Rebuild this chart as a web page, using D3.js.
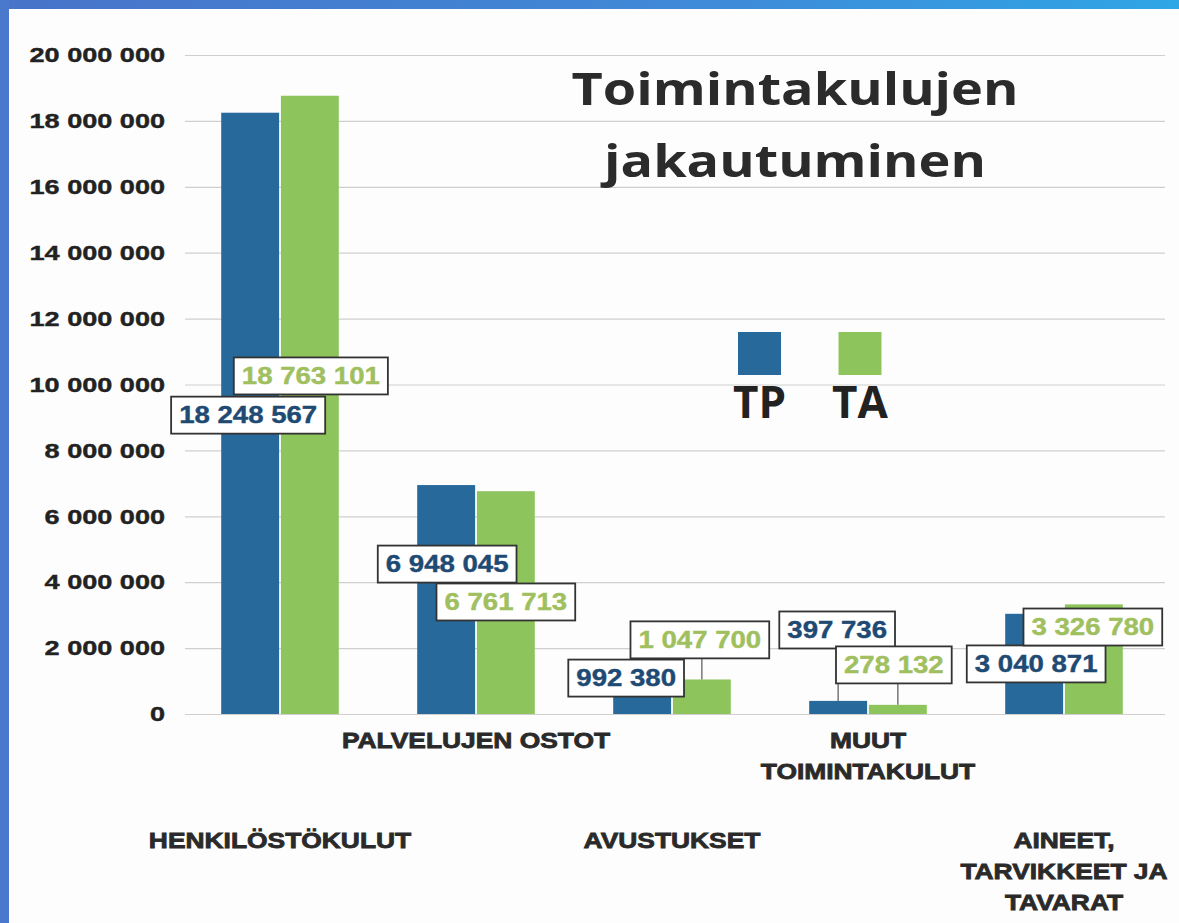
<!DOCTYPE html>
<html>
<head>
<meta charset="utf-8">
<script src="https://cdn.jsdelivr.net/npm/d3@7"></script>
<style>
  body { margin: 0; background: #ffffff; }
  svg { display: block; }
</style>
</head>
<body>
<div id="chart-area"></div>
<script>
// data
var categories = ["HENKILÖSTÖKULUT", "PALVELUJEN OSTOT", "AVUSTUKSET", "MUUT\nTOIMINTAKULUT", "AINEET,\nTARVIKKEET JA\nTAVARAT"];
var seriesNames = ["TP", "TA"];
var tpValues = [18248567, 6948045, 992380, 397736, 3040871];
var taValues = [18763101, 6761713, 1047700, 278132, 3326780];
var yTicks = [0, 2000000, 4000000, 6000000, 8000000, 10000000, 12000000, 14000000, 16000000, 18000000, 20000000];
var titleLines = ["Toimintakulujen", "jakautuminen"];

var W = 1179, H = 923;
var colors = { TP: "#27699b", TA: "#8dc55c" };
var labelColors = { TP: "#1e4a73", TA: "#a0c060" };
var fontSans = "'Liberation Sans', Arial, sans-serif";

// where each value box sits: shift from bar centre (px) and the level (in data units) of its centre
var labelLayout = {
  TP: [[-2, 9070000], [1, 4550000], [-16, 1090000], [-1, 2550000], [2, 1520000]],
  TA: [[1, 10260000], [0, 3400000], [-2, 2250000], [-4, 1490000], [-1, 2640000]]
};

var fmt = d3.formatLocale({ decimal: ",", thousands: " ", grouping: [3], currency: ["", ""] }).format(",d");

var svg = d3.select("#chart-area")
  .append("svg")
  .attr("width", W)
  .attr("height", H);

// background + scanned frame
var grad = svg.append("defs").append("linearGradient")
  .attr("id", "frame")
  .attr("x1", "0%").attr("x2", "100%");
grad.append("stop").attr("offset", "0%").attr("stop-color", "#4873c9");
grad.append("stop").attr("offset", "60%").attr("stop-color", "#3f8ad8");
grad.append("stop").attr("offset", "100%").attr("stop-color", "#2fa6e6");

svg.append("rect").attr("width", W).attr("height", H).attr("fill", "#fdfdfd");
svg.append("rect").attr("width", W).attr("height", 9).attr("fill", "url(#frame)");
svg.append("rect").attr("width", 9).attr("height", H).attr("fill", "#4a78cc");

// scales
var x0 = d3.scaleBand()
  .domain(categories)
  .range([182, 1162])
  .paddingInner(0.4)
  .paddingOuter(0.2);

var x1 = d3.scaleBand()
  .domain(seriesNames)
  .range([0, x0.bandwidth()])
  .paddingInner(0.03);

var y = d3.scaleLinear()
  .domain([0, 20000000])
  .range([714, 55]);

// grid
svg.append("g")
  .attr("transform", "translate(185,0)")
  .call(d3.axisLeft(y).tickValues(yTicks).tickSize(-980).tickFormat(""))
  .call(g => g.select(".domain").remove())
  .call(g => g.selectAll("line").attr("stroke", "#cfcfcf").attr("stroke-width", 1.2));

// y axis labels
var sxTick = 1.29;
svg.append("g")
  .attr("transform", "translate(185,0)")
  .call(d3.axisLeft(y).tickValues(yTicks).tickSize(0).tickPadding(20).tickFormat(fmt))
  .call(g => g.select(".domain").remove())
  .call(g => g.selectAll("text")
    .attr("x", -20 / sxTick)
    .attr("transform", "scale(" + sxTick + ",1)")
    .attr("fill", "#222")
    .attr("stroke", "#222")
    .attr("stroke-width", 0.4)
    .style("font-family", fontSans)
    .style("font-weight", "bold")
    .style("font-size", "21px"));

// bars
var rows = categories.map((c, i) => ({ cat: c, i: i, TP: tpValues[i], TA: taValues[i] }));

var groups = svg.selectAll("g.cat")
  .data(rows)
  .enter()
  .append("g")
  .attr("class", "cat")
  .attr("transform", d => "translate(" + x0(d.cat) + ",0)");

groups.selectAll("rect")
  .data(d => seriesNames.map(s => ({ s: s, v: d[s] })))
  .enter()
  .append("rect")
  .attr("x", d => x1(d.s))
  .attr("y", d => y(d.v))
  .attr("width", x1.bandwidth())
  .attr("height", d => y(0) - y(d.v))
  .attr("fill", d => colors[d.s]);

// value boxes
var sxVal = 1.2, boxH = 37, padX = 8;
var labels = [];
rows.forEach(d => {
  seriesNames.forEach(s => {
    var lay = labelLayout[s][d.i];
    var barCx = x0(d.cat) + x1(s) + x1.bandwidth() / 2;
    labels.push({ s: s, v: d[s], barCx: barCx, cx: barCx + lay[0], cy: y(lay[1]) });
  });
});

var lab = svg.append("g").selectAll("g")
  .data(labels)
  .enter()
  .append("g");

// leader lines where the box is above its bar
lab.filter(d => d.cy + boxH / 2 < y(d.v))
  .append("line")
  .attr("x1", d => d.barCx).attr("x2", d => d.barCx)
  .attr("y1", d => d.cy + boxH / 2)
  .attr("y2", d => y(d.v))
  .attr("stroke", "#777")
  .attr("stroke-width", 1.5);

var boxes = lab.append("rect")
  .attr("fill", "#fff")
  .attr("stroke", "#333")
  .attr("stroke-width", 1.8);

var texts = lab.append("text")
  .attr("transform", d => "translate(" + d.cx + "," + (d.cy + 8) + ") scale(" + sxVal + ",1)")
  .attr("text-anchor", "middle")
  .attr("fill", d => labelColors[d.s])
  .attr("stroke", d => labelColors[d.s])
  .attr("stroke-width", 0.4)
  .style("font-family", fontSans)
  .style("font-weight", "bold")
  .style("font-size", "23px")
  .text(d => fmt(d.v));

texts.each(function(d) { d.w = this.getComputedTextLength() * sxVal + 2 * padX; });
boxes
  .attr("x", d => d.cx - d.w / 2)
  .attr("y", d => d.cy - boxH / 2)
  .attr("width", d => d.w)
  .attr("height", boxH);

// category labels, staggered in two rows
var sxCat = 1.2;
categories.forEach((c, i) => {
  var cx = x0(c) + x0.bandwidth() / 2;
  var base = i % 2 === 0 ? 848 : 748;
  c.split("\n").forEach((line, k) => {
    svg.append("text")
      .attr("transform", "translate(" + cx + "," + (base + k * 31) + ") scale(" + sxCat + ",1)")
      .attr("text-anchor", "middle")
      .attr("fill", "#2a2a2a")
      .attr("stroke", "#2a2a2a")
      .attr("stroke-width", 0.8)
      .style("font-family", fontSans)
      .style("font-weight", "bold")
      .style("font-size", "22px")
      .text(line);
  });
});

// legend
var legendX = d3.scalePoint().domain(seriesNames).range([759.5, 860]);
var leg = svg.append("g").selectAll("g")
  .data(seriesNames)
  .enter()
  .append("g")
  .attr("transform", d => "translate(" + legendX(d) + ",0)");
leg.append("rect")
  .attr("x", -21.5).attr("y", 332)
  .attr("width", 43).attr("height", 43)
  .attr("fill", d => colors[d]);
leg.append("text")
  .attr("y", 418)
  .attr("text-anchor", "middle")
  .attr("fill", "#222")
  .style("font-family", "'Open Sans', sans-serif")
  .style("font-weight", "bold")
  .style("font-size", "44px")
  .text(d => d);

// title
svg.append("g").selectAll("text")
  .data(titleLines)
  .enter()
  .append("text")
  .attr("transform", (d, i) => "translate(795," + (105 + i * 72) + ") scale(1.2,1)")
  .attr("text-anchor", "middle")
  .attr("fill", "#2b2b2b")
  .style("font-family", "'Open Sans', sans-serif")
  .style("font-weight", "bold")
  .style("font-size", "45px")
  .text(d => d);
</script>
</body>
</html>
